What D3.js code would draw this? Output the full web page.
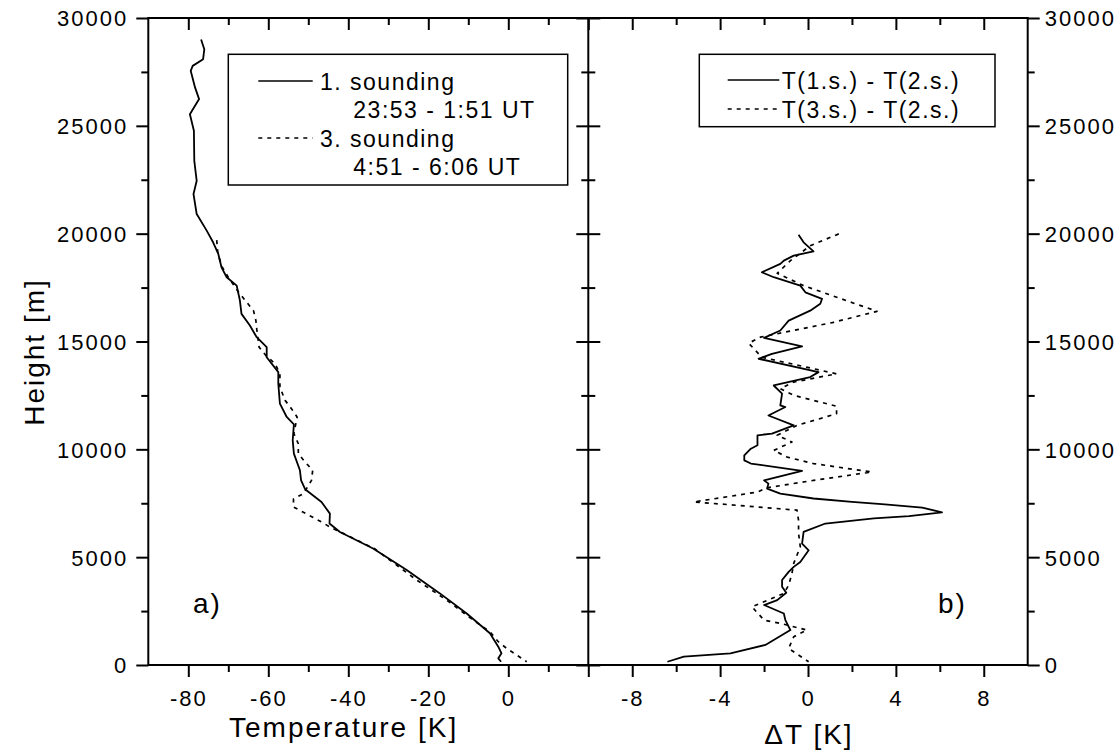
<!DOCTYPE html>
<html>
<head>
<meta charset="utf-8">
<script src="https://cdn.jsdelivr.net/npm/d3@7"></script>
<style>
  body { margin: 0; background: #fff; }
  svg text { font-family: "Liberation Sans", Arial, Helvetica, sans-serif; fill: #000; }
</style>
</head>
<body>
<svg id="chart" width="1120" height="752"></svg>
<script>
// ---- data (height in m, temperature / difference in K) ----
const s1Height = [29000, 28550, 28090, 27780, 27550, 26770, 26240, 25540, 24770, 23380, 22450, 21840, 20910, 20140, 19600, 19060, 18440, 17980, 17590, 16900, 16280, 15740, 15200, 14740, 14270, 13580, 13040, 12120, 11500, 11160, 10420, 9800, 9030, 8560, 8150, 7560, 7020, 6560, 6170, 5400, 4400, 3320, 2390, 1470, 850, 540, 310, 150];
const s1Temp = [-76.8, -76.0, -76.3, -78.9, -79.4, -78.3, -77.3, -79.6, -78.6, -78.5, -77.9, -78.7, -77.9, -75.4, -73.8, -72.5, -71.7, -70.4, -67.9, -67.1, -66.7, -64.6, -62.9, -60.4, -60.4, -57.5, -57.5, -57.1, -55.4, -53.6, -53.9, -53.6, -52.1, -51.8, -50.8, -46.7, -44.6, -44.7, -42.1, -33.8, -25.4, -17.1, -10.4, -4.6, -2.5, -1.7, -2.5, -1.8];

const s3Height = [19700, 19060, 18440, 17980, 17280, 16820, 16430, 15970, 15590, 14740, 14350, 13970, 13500, 12880, 12270, 11880, 11500, 10730, 10260, 9800, 9410, 9030, 8560, 7950, 7700, 7330, 6630, 6400, 5400, 3940, 3010, 2080, 1540, 1080, 770, 150];
const s3Temp = [-72.9, -72.6, -71.5, -70.0, -67.4, -65.4, -63.7, -63.1, -62.9, -62.3, -60.6, -58.3, -57.1, -57.1, -55.8, -54.2, -52.8, -53.6, -52.5, -52.5, -50.8, -48.9, -49.2, -51.2, -53.7, -53.7, -46.7, -44.6, -33.5, -22.9, -15.4, -8.75, -4.6, -2.5, -0.4, 4.6];

const d1Height = [19950, 19600, 19180, 18980, 18750, 18600, 18210, 17980, 17590, 17280, 16980, 16750, 16430, 15970, 15510, 15170, 14770, 14430, 14200, 13580, 13350, 12960, 12580, 12040, 11960, 11570, 11110, 10730, 10650, 10190, 10030, 9720, 9490, 9340, 9000, 8560, 8410, 8180, 7950, 7720, 7560, 7450, 7300, 7080, 6900, 6800, 6560, 6170, 5630, 5320, 4780, 4550, 4320, 3940, 3630, 3350, 3010, 2780, 2390, 2080, 1620, 930, 540, 390, 150];
const d1Diff = [-0.43, -0.2, 0.25, -0.65, -1.1, -1.26, -2.1, -1.56, -0.35, -0.12, 0.64, 0.56, 0.1, -0.88, -1.26, -2.0, -0.27, -1.64, -2.25, 0.48, 0.1, -1.56, -1.18, -1.26, -1.03, -1.8, -0.65, -1.64, -2.3, -2.3, -2.6, -2.9, -2.9, -2.6, -0.27, -2.0, -1.8, -1.86, -1.26, 0.25, 2.0, 3.5, 5.2, 6.1, 4.6, 3.0, 0.79, -0.2, -0.27, 0.03, -0.35, -0.65, -0.88, -1.18, -1.18, -0.99, -1.4, -2.0, -1.1, -1.03, -0.8, -1.94, -3.53, -5.65, -6.4];

const d3Height = [19990, 19440, 18750, 18160, 17590, 16400, 15890, 15200, 14920, 14270, 13500, 13120, 12810, 12500, 12000, 11650, 11110, 10650, 10340, 9950, 9640, 9340, 8950, 8560, 8220, 8020, 7560, 7490, 7180, 6710, 6100, 5480, 4710, 4250, 3700, 3320, 2700, 2080, 1930, 1620, 1310, 770, 150];
const d3Diff = [1.4, 0.1, -0.8, -1.4, -0.2, 3.14, 1.16, -2.17, -2.7, -2.1, 1.3, -0.65, -1.26, -0.65, 1.3, 1.3, -0.5, -1.4, -0.73, -1.56, -0.95, 0.25, 2.9, 0.25, -1.86, -2.3, -5.2, -4.3, -0.5, -0.43, -0.43, -0.35, -0.65, -0.73, -0.88, -1.1, -2.55, -2.0, -1.26, -0.05, -0.65, -0.88, 0.03];

const heightTicks = [0, 5000, 10000, 15000, 20000, 25000, 30000];
const heightMinor = [2500, 7500, 12500, 17500, 22500, 27500];
const tempTicks = [-80, -60, -40, -20, 0];
const tempMinor = [-70, -50, -30, -10, 10];
const diffTicks = [-8, -4, 0, 4, 8];
const diffMinor = [-6, -2, 2, 6];

const legendA = ["1. sounding", "23:53 - 1:51 UT", "3. sounding", "4:51 - 6:06 UT"];
const legendB = ["T(1.s.) - T(2.s.)", "T(3.s.) - T(2.s.)"];

// ---- layout ----
const plotTop = 18, plotBottom = 665;
const leftX0 = 148.3, mid = 588.3, rightX1 = 1027.7;
const svg = d3.select("#chart");

const y = d3.scaleLinear().domain([0, 30000]).range([plotBottom, plotTop]);
const xT = d3.scaleLinear().domain([-90, 20]).range([leftX0, mid]);
const xD = d3.scaleLinear().domain([-10, 10]).range([mid, rightX1]);

const tickFont = 22, spacing = 2;
const DASH = "4,5";
const plain = d => String(d); // hyphen minus like the original

// draw one axis: major ticks (optionally labelled) + minor ticks
function drawAxis(maker, scale, major, minor, pos, majorLen, minorLen, labels) {
  const g = svg.append("g").attr("transform", pos);
  g.append("g").call(maker(scale).tickValues(minor).tickSize(minorLen).tickSizeOuter(0).tickFormat(""));
  const m = g.append("g").call(maker(scale).tickValues(major).tickSize(majorLen).tickSizeOuter(0)
    .tickFormat(labels ? plain : ""));
  g.selectAll(".domain").remove();
  g.selectAll("line").attr("stroke", "#000").attr("stroke-width", 2);
  m.selectAll("text")
    .style("font-size", tickFont + "px")
    .style("letter-spacing", spacing + "px");
  return m;
}

// left panel axes
const ax1 = drawAxis(d3.axisLeft, y, heightTicks, heightMinor, `translate(${leftX0},0)`, 12, 7, true);
ax1.selectAll("text").attr("x", -20).attr("dy", "0.36em");
drawAxis(d3.axisLeft, y, heightTicks, heightMinor, `translate(${mid},0)`, -12, -7, false);
const ax2 = drawAxis(d3.axisBottom, xT, tempTicks.concat([20]), tempMinor, `translate(0,${plotBottom})`, 12, 7, true);
ax2.selectAll("text").attr("y", 25).attr("dy", "0.71em").text(d => d === 20 ? "" : d);
drawAxis(d3.axisTop, xT, tempTicks.concat([20]), tempMinor, `translate(0,${plotTop})`, -12, -7, false);

// right panel axes
drawAxis(d3.axisRight, y, heightTicks, heightMinor, `translate(${mid},0)`, -12, -7, false);
const ax3 = drawAxis(d3.axisRight, y, heightTicks, heightMinor, `translate(${rightX1},0)`, 12, 7, true);
ax3.selectAll("text").attr("x", 17).attr("dy", "0.36em");
const ax4 = drawAxis(d3.axisBottom, xD, diffTicks, diffMinor, `translate(0,${plotBottom})`, 12, 7, true);
ax4.selectAll("text").attr("y", 25).attr("dy", "0.71em");
drawAxis(d3.axisTop, xD, diffTicks, diffMinor, `translate(0,${plotTop})`, -12, -7, false);

// frames
svg.append("rect").attr("x", leftX0).attr("y", plotTop).attr("width", rightX1 - leftX0).attr("height", plotBottom - plotTop)
  .attr("fill", "none").attr("stroke", "#000").attr("stroke-width", 2);
svg.append("line").attr("x1", mid).attr("x2", mid).attr("y1", plotTop).attr("y2", plotBottom)
  .attr("stroke", "#000").attr("stroke-width", 2);

// curves
function curve(xs, hs, xScale, dashed) {
  const pts = hs.map((h, i) => [xScale(xs[i]), y(h)]);
  svg.append("path").attr("d", d3.line()(pts))
    .attr("fill", "none").attr("stroke", "#000")
    .attr("stroke-width", dashed ? 1.7 : 1.8)
    .attr("stroke-linejoin", "round")
    .attr("stroke-dasharray", dashed ? DASH : null);
}
curve(s1Temp, s1Height, xT, false);
curve(s3Temp, s3Height, xT, true);
curve(d1Diff, d1Height, xD, false);
curve(d3Diff, d3Height, xD, true);

// axis titles
const titleFont = 28;
svg.append("text").attr("x", 229).attr("y", 737).text("Temperature [K]")
  .style("font-size", titleFont + "px").style("letter-spacing", "2px");
svg.append("text").attr("x", xD(0) + 1).attr("y", 744).attr("text-anchor", "middle").text("\u0394T [K]")
  .style("font-size", titleFont + "px").style("letter-spacing", "2px");
svg.append("text").attr("transform", "translate(44,352) rotate(-90)").attr("text-anchor", "middle")
  .text("Height [m]").style("font-size", titleFont + "px").style("letter-spacing", "2px");

// panel labels
svg.append("text").attr("x", 193).attr("y", 613).text("a)").style("font-size", "28px").style("letter-spacing", "2px");
svg.append("text").attr("x", 938).attr("y", 613).text("b)").style("font-size", "28px").style("letter-spacing", "2px");

// legends
function legend(x0, y0, w, h, items, lineX0, lineX1, textX, rows) {
  const g = svg.append("g");
  g.append("rect").attr("x", x0).attr("y", y0).attr("width", w).attr("height", h)
    .attr("fill", "#fff").attr("stroke", "#000").attr("stroke-width", 1.5);
  rows.forEach((r, i) => {
    if (r.line) {
      g.append("line").attr("x1", lineX0).attr("x2", lineX1).attr("y1", r.base - 9).attr("y2", r.base - 9)
        .attr("stroke", "#000").attr("stroke-width", 1.5)
        .attr("stroke-dasharray", r.dash ? DASH : null);
    }
    g.append("text").attr("x", r.line ? textX : r.x).attr("y", r.base).text(items[i])
      .style("font-size", "23px").style("letter-spacing", "1.5px");
  });
}
legend(228.3, 54.3, 339.4, 130.7, legendA, 258.3, 312.7, 320, [
  { line: true, dash: false, base: 90 },
  { line: false, x: 353.3, base: 118 },
  { line: true, dash: true, base: 147 },
  { line: false, x: 353.3, base: 175 }
]);
legend(699.3, 54.3, 295.7, 72.4, legendB, 727.7, 779.3, 781.7, [
  { line: true, dash: false, base: 89 },
  { line: true, dash: true, base: 118 }
]);
</script>
</body>
</html>
